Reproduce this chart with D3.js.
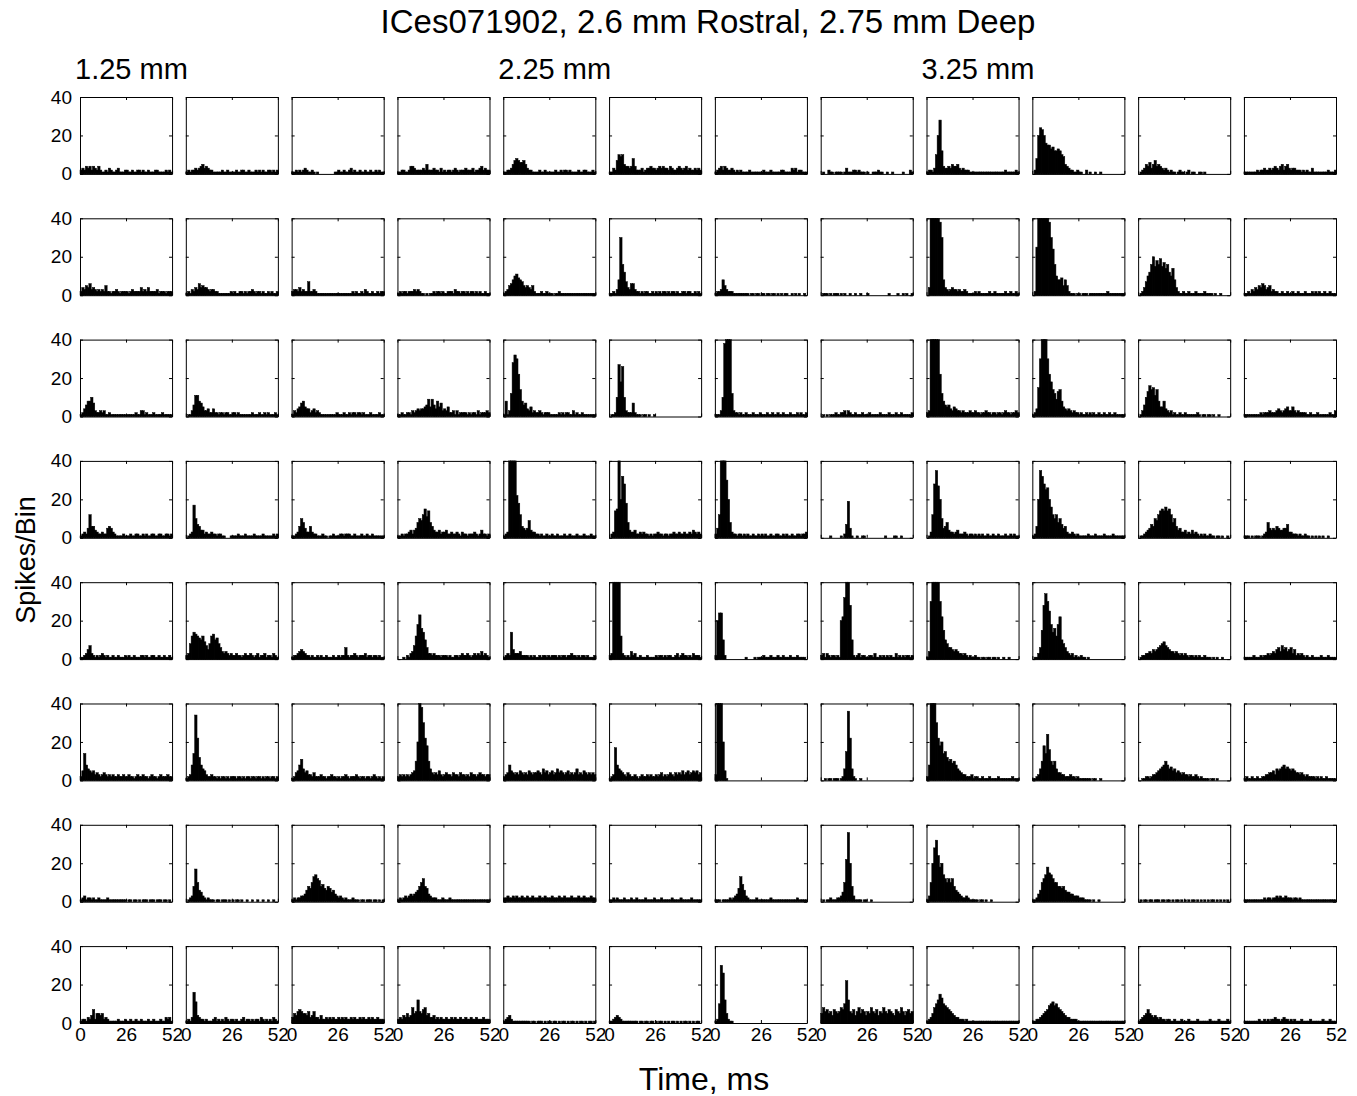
<!DOCTYPE html>
<html>
<head>
<meta charset="utf-8">
<script src="https://cdn.jsdelivr.net/npm/d3@7"></script>
<style>
  body { margin: 0; background: #fff; }
  svg text { font-family: "Liberation Sans", Arial, sans-serif; fill: #000; }
  .axis path, .axis line { stroke: #000; stroke-width: 1; }
</style>
</head>
<body>
<script>

var title = "ICes071902, 2.6 mm Rostral, 2.75 mm Deep";
var depthLabels = ["1.25 mm", "2.25 mm", "3.25 mm"];
var depthColumns = [0, 4, 8];
var yTicks = [0, 20, 40];
var xTicks = [0, 26, 52];
var binMs = 1;   // one bin per ms, 0..52 ms

// spikes per bin, one array of 12 panels per row
var row1 = [
  [2,3,2,4,3,4,2,4,3,2,4,2,1, 1,2,1,3,2,1,1,2,3,1,1,1,2, 2,1,1,2,1,1,2,2,1,2,1,1,2, 1,1,1,2,2,1,1,1,1,2,1,2,1],
  [1,2,1,2,2,3,2,3,4,5,3,4,3, 2,2,1,1,1,1,1,2,1,1,2,1,1, 1,1,2,1,1,2,2,1,1,2,1,1,1, 2,1,2,1,2,1,1,2,2,1,2,1,2],
  [1,1,2,1,2,1,2,3,2,1,1,2,1, 0,1,0,0,0,0,0,0,0,0,0,1,1, 2,1,1,2,1,1,2,3,1,2,1,1,2, 1,1,2,1,1,2,1,1,2,1,2,1,1],
  [1,1,2,2,1,1,2,4,4,3,2,2,2, 2,3,2,5,2,2,2,3,2,2,1,3,1, 2,1,2,2,1,2,3,2,1,2,2,2,3, 2,2,2,3,1,2,2,3,4,2,3,2,2],
  [1,1,2,2,3,5,7,8,7,6,6,7,5, 3,2,2,1,1,1,1,2,1,1,2,1,1, 1,1,1,2,1,1,2,1,2,2,1,2,1, 1,1,1,2,1,1,2,2,1,1,1,2,1],
  [1,1,3,2,7,10,9,10,5,4,4,3,4, 8,4,2,2,2,3,1,2,3,3,4,3,3, 2,3,4,3,4,3,3,2,4,3,2,2,3, 4,3,2,3,4,2,3,2,2,3,2,3,2],
  [1,2,3,4,2,4,3,2,2,3,2,1,2, 1,2,1,1,1,1,2,1,1,1,1,1,1, 1,2,1,1,1,2,1,1,1,1,1,2,2, 1,1,1,1,3,2,3,1,2,2,1,1,1],
  [0,1,0,0,2,1,1,0,1,1,1,1,0, 1,3,1,1,1,2,2,1,2,1,1,1,0, 1,0,0,1,1,1,2,1,1,0,0,1,0, 0,1,0,0,0,0,0,1,0,0,0,2,1],
  [1,2,2,1,3,10,20,28,12,4,3,3,4, 3,5,4,4,5,3,2,3,2,2,2,1,1, 1,1,1,1,1,1,1,1,1,1,1,1,1, 1,1,1,1,1,2,1,1,1,1,1,2,1],
  [0,2,8,20,24,23,20,16,15,15,13,14,12, 12,13,12,10,9,5,4,3,2,2,1,1,2, 1,1,0,0,2,0,1,0,0,1,0,0,1, 0,0,0,0,0,0,0,0,0,0,0,0,0],
  [0,1,2,3,5,4,6,3,5,7,4,5,4, 3,2,3,2,1,2,1,1,0,1,2,1,1, 0,1,2,0,1,1,0,0,1,1,0,1,0, 0,0,0,0,0,0,0,0,0,0,0,0,0],
  [1,1,1,1,1,1,1,2,1,2,2,3,2, 2,3,2,3,4,3,2,4,5,2,4,5,3, 2,3,3,2,2,2,1,2,1,2,1,1,3, 1,1,1,1,1,1,1,1,2,1,1,1,2]
];

var row2 = [
  [2,4,3,5,4,6,3,4,3,2,3,2,3, 2,5,2,2,1,2,2,3,2,1,2,2,2, 2,1,2,3,2,2,2,2,4,2,3,2,4, 2,2,2,2,3,1,2,2,2,1,2,2,2],
  [1,2,1,3,2,4,3,6,4,5,4,4,3, 2,3,3,2,2,1,1,1,1,1,1,1,2, 1,2,1,1,2,2,1,2,1,2,2,3,2, 1,2,2,1,2,1,1,2,1,2,1,1,2],
  [2,3,3,2,4,2,3,2,2,7,2,2,3, 2,1,1,1,1,1,1,1,1,1,1,1,1, 1,1,1,1,1,1,1,1,2,1,2,1,1, 2,1,3,2,1,1,2,1,1,2,1,2,2],
  [1,2,1,2,2,1,2,2,2,3,2,3,2, 1,1,0,1,0,1,1,2,1,2,2,1,2, 1,1,2,2,2,1,3,2,2,1,2,2,1, 2,1,2,2,1,2,1,2,1,1,2,1,1],
  [1,2,3,5,6,8,10,11,9,8,7,5,4, 5,4,3,5,2,1,1,1,2,1,1,2,1, 1,1,0,1,1,2,1,1,1,1,1,1,1, 1,1,1,1,1,1,1,1,1,1,1,1,1],
  [1,1,2,1,3,8,30,16,12,7,4,3,6, 6,3,2,2,1,2,1,2,2,1,1,2,1, 2,1,2,1,2,2,1,2,1,2,2,1,2, 1,1,2,2,1,2,2,1,1,2,1,2,1],
  [1,2,2,3,8,5,3,2,2,2,1,1,1, 1,1,1,1,1,1,0,1,1,0,1,1,0, 1,1,0,1,1,0,1,1,0,1,0,1,0, 1,1,0,0,1,0,1,0,1,0,0,1,0],
  [0,1,1,1,0,1,0,1,1,1,0,1,0, 1,0,0,1,0,0,1,0,0,1,0,0,0, 1,0,0,0,0,0,0,0,0,0,0,0,1, 0,0,0,0,1,0,0,1,0,1,0,0,1],
  [0,4,40,40,45,45,40,38,30,8,4,3,2, 3,4,3,3,2,3,2,2,3,2,1,1,1, 1,2,1,2,1,1,1,1,1,2,1,1,2, 1,1,1,1,1,2,1,1,2,1,1,2,1],
  [0,2,25,40,45,45,45,42,40,38,30,24,16, 10,8,8,9,5,8,5,2,1,1,1,0,1, 1,0,1,1,1,0,1,1,1,1,1,1,1, 1,1,1,2,1,1,1,1,1,1,1,1,1],
  [0,1,2,4,7,10,12,16,20,15,18,16,19, 15,17,14,16,12,10,14,8,4,2,1,1,2, 1,1,2,1,1,1,2,1,1,1,1,2,1, 1,1,1,0,1,0,0,1,0,0,0,0,0],
  [1,1,2,1,3,2,4,3,5,4,6,5,3, 4,5,2,3,2,2,1,1,2,1,1,2,1, 1,2,1,1,2,1,1,1,2,1,1,1,2, 1,2,1,2,1,1,2,1,1,2,1,1,1]
];

var row3 = [
  [1,2,4,6,8,8,10,7,3,2,2,3,2, 3,1,1,2,1,1,1,1,1,1,1,1,1, 1,1,1,1,1,2,1,1,3,3,1,2,1, 1,1,2,1,1,1,1,2,1,1,1,1,1],
  [0,1,1,3,6,11,11,8,7,5,3,3,4, 2,2,4,2,2,1,2,2,1,2,2,1,1, 2,2,1,2,1,1,1,1,1,1,1,2,1, 1,1,2,1,1,2,1,2,1,1,1,2,1],
  [1,3,2,4,5,7,8,5,4,4,2,3,4, 2,3,2,1,1,1,1,1,1,1,1,1,2, 1,1,1,2,1,1,2,1,2,2,1,2,2, 1,2,1,1,1,2,1,1,1,1,2,1,1],
  [1,1,2,1,1,2,2,1,3,2,3,4,3, 4,4,5,6,9,5,9,6,4,8,5,7,3, 4,3,5,2,2,3,1,3,1,2,2,2,2, 1,2,1,2,2,1,3,1,2,2,2,3,2],
  [1,8,1,3,12,28,32,30,22,14,8,6,7, 4,3,5,2,3,2,2,3,2,1,2,2,2, 1,1,1,1,1,2,1,2,1,2,2,1,1, 3,1,2,1,1,2,1,1,1,1,1,1,1],
  [0,1,1,2,10,27,18,26,10,3,2,2,2, 7,2,1,1,1,0,1,1,0,1,0,0,1, 0,0,0,0,0,0,0,0,0,0,0,0,0, 0,0,0,0,0,0,0,0,0,0,0,0,0],
  [1,1,1,3,10,38,45,45,40,12,3,2,2, 1,2,1,1,2,1,1,1,2,1,1,1,2, 1,1,1,2,1,1,2,1,1,2,1,1,2, 1,1,1,2,1,1,1,2,1,2,1,1,2],
  [0,1,0,1,0,1,1,1,2,1,1,2,2, 3,1,3,2,1,1,2,1,1,1,2,1,1, 1,2,1,1,1,1,1,2,1,1,1,1,2, 1,1,1,2,1,1,2,1,1,1,1,1,2],
  [2,3,40,45,45,45,42,22,12,8,6,5,6, 4,3,5,4,3,3,2,3,2,2,2,3,2, 2,3,2,2,1,2,2,3,2,2,1,2,2, 1,2,2,1,2,3,2,2,1,2,2,3,2],
  [1,2,4,15,30,40,45,40,30,22,18,14,12, 9,13,14,8,5,4,3,4,3,2,3,2,2, 1,2,1,1,2,1,2,1,2,1,1,2,1, 1,2,1,1,2,1,1,2,1,1,1,1,1],
  [0,1,3,6,10,13,16,14,15,11,14,8,5, 5,8,4,3,2,3,1,2,1,1,2,1,1, 2,1,1,1,1,1,1,2,1,0,1,1,0, 1,1,0,1,0,0,1,0,0,0,0,0,0],
  [1,1,1,1,1,1,1,1,1,2,1,2,2, 2,3,2,2,2,3,4,3,2,3,4,5,3, 3,5,3,2,3,2,2,2,2,1,1,2,1, 1,1,2,1,1,1,1,1,1,2,1,1,3]
];

var row4 = [
  [1,2,3,2,5,12,6,6,4,3,2,2,3, 2,2,5,6,5,3,2,1,1,1,1,2,1, 1,1,2,1,1,2,2,1,1,2,1,2,1, 1,2,2,1,1,2,2,1,1,2,2,1,2],
  [0,1,2,3,17,10,7,6,4,4,2,3,2, 2,3,2,2,1,2,2,1,1,0,0,0,1, 1,1,1,2,1,1,1,2,1,1,1,1,2, 1,1,1,1,2,1,1,1,1,1,2,1,2],
  [1,1,2,3,6,10,8,5,3,3,6,3,2, 2,1,1,1,2,1,1,0,1,1,2,1,1, 1,2,2,1,2,2,2,1,1,2,1,1,1, 2,1,1,2,1,1,2,1,1,1,1,1,1],
  [1,1,2,1,2,2,3,4,2,4,5,8,10, 9,12,15,11,14,8,6,4,3,3,4,2,3, 3,4,2,2,3,2,2,3,2,1,3,2,2, 1,2,2,2,3,2,1,2,4,2,2,1,2],
  [1,2,3,45,45,45,45,22,18,12,6,5,4, 5,9,4,3,3,2,2,1,2,1,1,2,1, 1,2,1,1,2,1,1,1,2,1,1,2,1, 1,1,2,1,1,1,2,1,1,1,2,1,1],
  [0,2,3,14,15,45,20,32,28,18,8,4,3, 3,4,2,2,3,2,3,2,2,1,2,1,2, 2,3,2,2,1,2,2,1,2,2,3,2,2, 3,2,2,3,2,2,3,2,4,3,2,3,2],
  [2,5,12,40,45,42,30,20,8,3,2,2,1, 2,2,1,2,1,2,1,1,2,1,1,2,1, 2,1,2,1,1,2,1,1,2,2,1,1,2, 1,2,1,1,2,1,1,2,2,1,2,2,3],
  [0,0,0,0,0,1,0,0,0,0,0,1,0, 2,7,19,5,1,0,0,1,0,0,1,1,0, 0,0,0,0,0,0,0,0,0,0,1,0,0, 0,0,1,1,0,0,1,0,0,0,0,0,0],
  [0,1,3,12,28,35,27,20,10,5,6,8,4, 3,3,2,3,4,2,2,2,3,2,1,2,2, 1,2,1,2,1,2,1,1,2,1,1,2,1, 1,2,1,1,1,2,1,1,2,1,2,1,1],
  [1,2,6,20,35,32,28,25,26,20,16,12,10, 12,8,10,7,5,6,3,2,2,3,2,1,2, 1,1,1,1,1,2,1,1,1,2,1,1,1, 1,2,1,1,1,1,2,1,1,1,1,1,1],
  [0,1,1,2,3,4,5,7,6,10,9,12,14, 15,14,16,14,15,12,8,10,6,4,5,3,3, 4,2,3,2,4,2,3,2,1,2,1,2,1, 1,2,1,1,0,1,1,0,1,0,0,1,0],
  [1,1,1,0,1,0,1,1,1,0,1,2,3, 8,5,4,5,4,6,5,4,4,5,5,7,3, 3,2,2,2,1,2,1,1,2,1,1,0,1, 0,1,0,1,0,1,0,0,1,0,0,0,0]
];

var row5 = [
  [1,1,2,3,5,7,3,2,1,2,1,2,3, 2,1,2,1,1,2,1,1,2,1,1,1,2, 1,2,1,1,2,1,1,1,2,2,1,2,1, 1,2,2,1,1,2,1,1,2,1,1,2,1],
  [2,3,8,12,14,13,12,11,10,12,9,7,5, 8,12,13,10,11,8,6,4,3,4,3,2,3, 2,2,3,2,2,1,2,3,2,2,3,2,1, 2,3,1,2,2,3,1,2,2,1,3,2,1],
  [1,2,2,3,4,5,4,3,2,2,1,2,1, 1,2,1,2,1,1,2,1,1,1,2,1,1, 2,1,2,2,6,2,1,2,2,3,2,1,2, 2,2,3,1,2,2,1,2,2,1,2,1,1],
  [0,0,0,1,0,2,1,3,4,7,12,18,23, 16,14,10,6,3,3,2,3,2,2,2,1,2, 2,2,1,2,1,1,2,2,1,2,3,2,2, 3,2,1,2,3,2,3,2,4,2,3,2,1],
  [1,2,3,2,14,5,3,3,3,4,2,2,2, 2,1,2,1,2,1,1,2,1,2,2,1,2, 1,2,2,2,1,2,1,2,2,1,2,2,3, 2,2,1,2,1,2,2,1,2,1,1,1,2],
  [2,3,45,40,45,45,12,3,2,1,2,1,4, 2,3,1,1,2,1,1,1,2,1,1,1,1, 2,1,2,2,1,2,1,2,2,1,1,2,3, 1,2,3,2,2,1,2,1,3,2,2,2,1],
  [2,20,24,24,10,2,0,0,0,0,0,0,0, 0,0,0,0,1,0,0,0,0,1,0,1,1, 1,2,1,1,1,2,1,1,1,2,1,1,2, 1,1,1,2,1,1,1,2,1,1,1,1,0],
  [2,3,1,3,2,1,2,2,1,2,1,20,22, 32,40,45,28,10,2,1,2,3,1,2,2,1, 1,2,2,1,3,1,1,2,1,2,1,2,1, 2,1,1,3,1,2,1,2,1,2,2,1,2],
  [1,4,30,45,45,45,40,30,22,15,10,8,6, 6,5,4,5,4,3,3,2,3,2,1,2,1, 1,2,1,1,0,1,1,0,1,1,0,1,1, 0,1,0,0,1,0,0,1,0,0,0,0,0],
  [0,1,1,3,6,15,28,34,30,25,18,14,16, 12,18,22,10,8,6,4,3,2,3,1,2,1, 1,2,1,1,0,1,0,0,0,0,0,0,0, 0,0,0,0,0,0,0,0,0,0,0,0,0],
  [0,1,2,2,3,3,4,3,5,4,5,6,7, 8,9,7,6,5,4,4,3,4,3,2,3,2, 3,2,1,2,2,1,2,1,2,1,1,2,1, 1,1,0,1,0,1,0,0,1,0,0,0,0],
  [1,1,1,1,1,2,1,1,1,2,1,2,2, 3,2,3,4,3,5,6,4,7,5,6,4,5, 6,3,5,2,3,2,3,2,1,2,1,1,2, 1,1,1,1,2,1,1,1,2,1,1,1,1]
];

var row6 = [
  [2,5,14,8,6,5,4,5,3,4,3,2,3, 4,3,2,3,2,3,2,2,3,2,2,3,2, 2,3,2,2,1,2,3,2,2,3,2,2,1, 2,3,2,2,1,2,3,2,2,2,3,2,2],
  [1,2,3,8,14,34,22,12,8,6,5,3,2, 2,3,2,2,1,2,1,2,2,1,2,1,2, 2,2,1,2,2,1,2,1,2,2,1,2,2, 1,2,2,1,2,1,2,2,1,2,2,1,2],
  [1,2,4,5,8,11,6,4,5,3,3,2,4, 2,2,2,3,2,2,1,2,2,3,2,2,1, 2,1,2,2,3,2,1,2,2,2,3,2,1, 2,2,1,2,2,1,2,3,2,1,2,1,2],
  [2,3,2,3,2,3,2,3,4,5,10,20,40, 38,30,22,18,10,6,4,3,4,3,5,3,2, 3,4,3,3,2,4,3,3,2,4,3,3,2, 3,2,4,3,3,2,3,4,3,3,2,3,3],
  [2,3,4,8,5,4,3,4,3,5,4,3,4, 3,5,4,3,4,4,5,4,3,6,4,5,3, 4,5,3,4,6,4,5,4,3,4,5,3,4, 3,4,6,3,4,3,5,4,3,4,3,4,3],
  [1,2,3,17,8,6,5,4,3,2,4,3,2, 2,3,2,1,2,3,2,2,3,2,3,2,2, 3,2,3,4,2,3,2,3,4,3,2,4,3, 4,3,5,3,4,5,3,4,5,4,5,3,4],
  [3,40,45,40,20,5,1,0,0,0,0,0,0, 0,0,0,0,0,0,0,0,0,0,0,0,0, 0,0,0,0,0,0,0,0,0,0,0,0,0, 0,0,0,0,0,0,0,0,0,0,0,0,0],
  [0,0,1,0,1,1,0,1,1,1,0,1,2, 6,15,36,22,6,2,1,0,0,1,0,0,0, 0,0,0,0,0,0,0,0,0,0,0,0,0, 0,0,0,0,0,0,0,0,0,0,0,0,0],
  [2,8,40,42,45,30,22,18,20,14,15,12,10, 11,9,10,8,6,5,4,3,3,2,2,2,3, 1,2,2,1,1,2,1,1,1,2,1,1,1, 1,2,1,1,1,1,1,1,1,2,1,1,1],
  [1,1,2,3,6,10,18,14,24,16,10,8,10, 6,4,4,3,3,2,2,2,3,2,2,1,2, 1,1,1,1,1,1,1,0,1,1,0,0,1, 0,0,0,0,0,0,0,0,0,0,0,0,0],
  [0,0,1,1,2,2,1,2,3,3,4,5,6, 7,8,10,8,6,7,5,6,4,5,4,3,4, 3,3,2,3,2,2,3,2,1,2,1,1,1, 1,0,1,1,0,1,0,0,0,0,0,0,0],
  [1,2,1,1,2,1,1,2,1,1,2,2,3, 3,4,4,5,3,6,5,6,7,8,6,7,6, 5,6,5,4,4,3,4,3,2,3,2,2,2, 2,1,2,1,2,1,1,2,1,1,1,1,1]
];

var row7 = [
  [1,2,3,1,2,2,1,2,1,1,2,1,1, 1,1,2,1,1,1,1,1,1,1,1,1,1, 0,1,1,0,1,1,0,1,0,1,1,1,0, 1,1,1,0,1,1,1,0,1,1,0,1,0],
  [0,1,2,3,8,17,10,6,5,3,2,1,2, 1,1,1,0,1,1,0,1,1,1,0,1,0, 1,0,1,1,0,1,0,0,1,0,0,1,0, 0,1,0,0,1,0,0,1,0,0,1,0,0],
  [1,2,1,2,2,3,3,4,6,8,7,10,13, 14,12,11,8,9,7,6,8,7,5,6,4,3, 2,3,2,1,2,1,1,1,2,1,1,1,0, 1,1,0,1,1,1,0,1,1,0,1,0,1],
  [1,2,1,2,3,2,3,4,3,4,5,6,8, 10,12,8,7,4,3,2,2,2,1,1,1,2, 1,1,1,2,1,1,1,1,1,1,1,1,1, 1,1,1,1,1,1,1,1,1,1,1,1,1],
  [2,2,3,2,2,3,2,3,2,2,3,2,2, 3,2,2,3,2,2,2,3,2,2,3,2,2, 2,3,2,2,2,3,2,2,3,2,2,2,3, 2,2,2,3,2,2,3,2,2,2,3,2,2],
  [1,1,2,1,2,1,1,1,2,1,1,1,2, 1,1,2,1,1,1,1,2,1,1,1,1,2, 1,1,1,2,1,1,1,1,1,2,1,1,1, 1,2,1,1,1,1,1,2,1,1,1,1,1],
  [1,1,1,0,1,1,1,1,2,1,2,3,4, 7,13,9,6,3,2,1,1,1,1,2,1,1, 1,1,1,1,1,2,1,1,1,1,1,1,1, 1,1,1,1,1,1,1,2,1,1,1,1,1],
  [0,1,0,1,1,2,1,1,1,2,2,3,5, 10,22,36,20,8,3,1,1,1,1,0,1,1, 0,0,1,0,0,0,0,0,0,0,0,0,0, 0,0,0,0,0,0,0,0,0,0,0,0,0],
  [1,3,10,20,28,32,24,18,20,14,12,10,12, 10,12,8,6,5,4,3,2,2,3,2,1,1, 1,1,1,0,1,1,0,1,0,0,1,0,0, 0,0,0,0,0,0,0,0,0,0,0,0,0],
  [1,1,2,4,6,10,12,14,18,15,14,12,10, 10,8,8,7,8,6,5,5,4,4,3,3,3, 2,2,2,1,1,1,1,0,1,0,0,1,0, 0,0,0,0,0,0,0,0,0,0,0,0,0],
  [0,1,0,1,1,0,1,1,0,1,1,1,0, 1,1,0,1,1,0,1,0,1,1,0,1,0, 1,0,1,0,1,1,0,1,0,1,0,1,0, 1,0,1,1,0,1,0,1,0,1,0,1,0],
  [1,1,1,1,1,1,1,1,1,1,1,2,1, 2,2,1,2,2,3,2,3,2,2,3,2,2, 2,1,2,2,1,2,1,1,1,1,1,1,1, 1,1,1,1,1,1,1,1,1,1,1,1,1]
];

var row8 = [
  [1,2,2,1,3,2,4,7,2,5,5,4,5, 2,3,2,1,1,1,1,1,2,1,1,1,2, 1,1,2,1,1,2,1,1,2,1,1,1,2, 1,1,2,1,1,1,2,1,1,3,2,3,1],
  [1,2,1,3,16,11,4,3,2,2,1,2,1, 1,1,2,3,1,2,1,2,1,3,2,1,2, 2,1,2,1,1,2,3,1,2,2,1,2,1, 2,2,1,3,2,1,2,1,2,1,3,2,1],
  [3,5,4,6,7,6,5,5,4,6,3,4,6, 3,3,2,4,2,2,3,2,3,2,3,2,2, 3,2,3,2,3,2,2,3,2,3,2,2,3, 2,3,2,2,3,2,3,2,2,3,2,2,2],
  [2,3,2,4,3,5,3,4,8,5,6,12,6, 5,7,8,4,5,3,3,4,2,3,2,3,2, 2,3,2,2,3,2,3,2,2,3,2,2,3, 2,2,3,2,2,3,2,2,2,3,2,2,2],
  [1,2,3,4,2,1,1,1,1,1,1,1,1, 1,1,0,1,1,0,1,1,1,0,1,0,1, 1,0,1,1,0,1,0,1,1,0,1,0,1, 1,0,1,0,1,1,0,1,0,1,1,0,1],
  [1,1,2,3,4,3,2,1,1,1,1,1,1, 1,1,1,0,1,1,0,1,1,0,1,1,0, 1,0,1,1,0,1,0,1,0,1,1,0,1, 0,1,0,1,1,0,1,0,1,0,1,1,0],
  [1,2,10,30,26,12,5,2,1,1,0,0,0, 0,0,0,0,0,0,0,0,0,0,0,0,0, 0,0,0,0,0,0,0,0,0,0,0,0,0, 0,0,0,0,0,0,0,0,0,0,0,0,0],
  [5,8,6,7,5,6,4,7,6,5,6,8,7, 10,22,12,6,5,7,4,6,8,5,7,6,4, 6,5,8,6,5,7,4,6,5,8,6,5,7, 6,5,4,7,6,5,8,6,4,6,7,5,6],
  [1,2,3,5,8,10,12,15,13,10,9,8,7, 6,5,4,3,3,2,2,2,1,2,1,1,1, 1,1,1,1,1,1,1,1,1,1,1,1,1, 1,1,1,1,1,1,1,1,1,1,1,1,1],
  [1,1,2,2,3,4,5,6,7,9,10,11,9, 10,8,7,6,5,4,3,3,2,2,2,2,1, 1,1,1,1,1,1,1,1,1,1,1,1,1, 1,1,1,1,1,1,1,1,1,1,1,1,1],
  [1,2,3,4,5,7,5,4,3,4,3,2,3, 2,2,1,2,2,1,1,2,1,1,1,2,1, 1,1,2,1,1,1,1,2,1,1,1,1,1, 1,2,1,1,1,1,2,1,1,1,1,2,1],
  [1,1,1,1,1,1,1,1,2,1,1,2,1, 2,1,2,2,3,2,2,1,2,3,2,2,1, 2,1,2,1,1,1,2,1,1,1,1,2,1, 1,1,1,1,1,2,1,1,1,2,1,1,1]
];

var rows = [row1, row2, row3, row4, row5, row6, row7, row8];

var W = 1357, H = 1096;

var svg = d3.select("body").append("svg")
    .attr("width", W)
    .attr("height", H);

var col = d3.scaleBand()
    .domain(d3.range(12))
    .range([80, 1336])
    .paddingInner(0.13);

var row = d3.scaleBand()
    .domain(d3.range(rows.length))
    .range([97, 1023])
    .paddingInner(0.366);

var x = d3.scaleLinear().domain([0, 52]).range([0, col.bandwidth()]);
var y = d3.scaleLinear().domain([0, 40]).range([row.bandwidth(), 0]).clamp(true);

var barW = x(binMs) - x(0);

rows.forEach(function(panels, r) {
  panels.forEach(function(counts, c) {
    var g = svg.append("g")
        .attr("transform", "translate(" + col(c) + "," + row(r) + ")");

    // bars, widened a little so neighbours merge into a solid block
    g.append("g")
      .selectAll("rect")
      .data(counts)
      .enter().append("rect")
        .attr("x", function(d, i) { return x(i * binMs); })
        .attr("y", function(d) { return y(d); })
        .attr("width", Math.min(barW + 0.6, col.bandwidth()))
        .attr("height", function(d) { return y(0) - y(d); })
        .attr("fill", "#000")
        .attr("stroke", "#000")
        .attr("stroke-width", 0.5);

    var firstCol = c === 0, lastRow = r === rows.length - 1;

    // ticks inside on all four sides, labels only on outer panels
    g.append("g")
        .attr("class", "axis")
        .call(d3.axisLeft(y).tickValues(yTicks).tickSizeInner(-3).tickSizeOuter(0).tickPadding(8)
              .tickFormat(firstCol ? d3.format("d") : function() { return ""; }))
        .selectAll("text").style("font-size", "19px");

    g.append("g")
        .attr("class", "axis")
        .attr("transform", "translate(" + col.bandwidth() + ",0)")
        .call(d3.axisRight(y).tickValues(yTicks).tickSizeInner(-3).tickSizeOuter(0).tickFormat(""));

    g.append("g")
        .attr("class", "axis")
        .call(d3.axisTop(x).tickValues(xTicks).tickSizeInner(-3).tickSizeOuter(0).tickFormat(""));

    g.append("g")
        .attr("class", "axis")
        .attr("transform", "translate(0," + row.bandwidth() + ")")
        .call(d3.axisBottom(x).tickValues(xTicks).tickSizeInner(-3).tickSizeOuter(0).tickPadding(5)
              .tickFormat(lastRow ? d3.format("d") : function() { return ""; }))
        .selectAll("text").style("font-size", "19px");
  });
});

svg.selectAll(".axis text").attr("font-family", null);

// title
svg.append("text")
    .attr("x", (col(0) + col(11) + col.bandwidth()) / 2)
    .attr("y", 33)
    .attr("text-anchor", "middle")
    .style("font-size", "33px")
    .text(title);

// depth labels over columns
svg.selectAll(".depth")
    .data(depthLabels)
  .enter().append("text")
    .attr("class", "depth")
    .attr("x", function(d, i) { return col(depthColumns[i]) - 5; })
    .attr("y", 79)
    .style("font-size", "29px")
    .text(function(d) { return d; });

// y label
svg.append("text")
    .attr("transform", "translate(35," + (97 + 1023) / 2 + ") rotate(-90)")
    .attr("text-anchor", "middle")
    .style("font-size", "27px")
    .text("Spikes/Bin");

// x label
svg.append("text")
    .attr("x", (col(0) + col(11) + col.bandwidth()) / 2 - 4)
    .attr("y", 1090)
    .attr("text-anchor", "middle")
    .style("font-size", "32px")
    .text("Time, ms");

</script>
</body>
</html>
